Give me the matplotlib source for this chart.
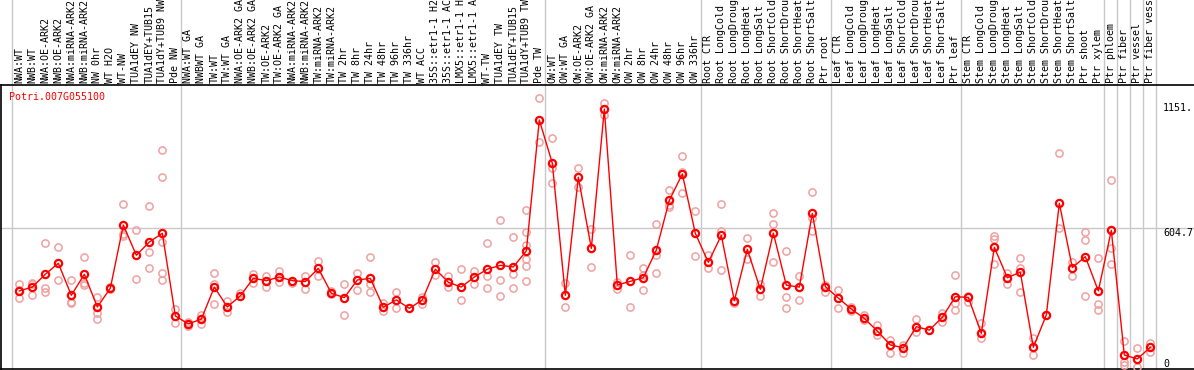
import numpy as np
import matplotlib
matplotlib.use("Agg")
import matplotlib.pyplot as plt
import matplotlib.transforms as mtransforms

# --- data ---
gene = "Potri.007G055100"

labels = [
    "NWA:WT", "NWB:WT", "NWA:OE-ARK2", "NWB:OE-ARK2", "NWA:miRNA-ARK2", "NWB:miRNA-ARK2",
    "NW 0hr", "WT H2O", "WT-NW", "TUA1dEY NW", "TUA1dEY+TUB15", "TUA1dY+TUB9 NW", "Pde NW",
    "NWA:WT GA", "NWBWT GA", "TW:WT", "TW:WT GA", "NWA:OE-ARK2 GA", "NWB:OE-ARK2 GA",
    "TW:OE-ARK2", "TW:OE-ARK2 GA", "NWA:miRNA-ARK2", "NWB:miRNA-ARK2", "TW:miRNA-ARK2",
    "TW:miRNA-ARK2", "TW 2hr", "TW 8hr", "TW 24hr", "TW 48hr", "TW 96hr", "TW 336hr", "WT ACC",
    "35S::etr1-1 H2O", "35S::etr1-1 ACC", "LMX5::etr1-1 H2O", "LMX5::etr1-1 ACC", "WT-TW",
    "TUA1dEY TW", "TUA1dEY+TUB15", "TUA1dY+TUB9 TW", "Pde TW",
    "OW:WT", "OW:WT GA", "OW:OE-ARK2", "OW:OE-ARK2 GA", "OW:miRNA-ARK2", "OW:miRNA-ARK2",
    "OW 2hr", "OW 8hr", "OW 24hr", "OW 48hr", "OW 96hr", "OW 336hr",
    "Root CTR", "Root LongCold", "Root LongDrought", "Root LongHeat", "Root LongSalt",
    "Root ShortCold", "Root ShortDrought", "Root ShortHeat", "Root ShortSalt", "Ptr root",
    "Leaf CTR", "Leaf LongCold", "Leaf LongDrought", "Leaf LongHeat", "Leaf LongSalt",
    "Leaf ShortCold", "Leaf ShortDrought", "Leaf ShortHeat", "Leaf ShortSalt", "Ptr leaf",
    "Stem CTR", "Stem LongCold", "Stem LongDrought", "Stem LongHeat", "Stem LongSalt",
    "Stem ShortCold", "Stem ShortDrought", "Stem ShortHeat", "Stem ShortSalt", "Ptr shoot",
    "Ptr xylem",
    "Ptr phloem", "Ptr fiber", "Ptr vessel", "Ptr fiber vessel",
]
group_sizes = [13, 28, 12, 10, 10, 11, 1, 1, 1, 1]

means = [
    331, 348, 404, 452, 312, 404, 261, 343, 619, 487, 545, 583, 222,
    187, 208, 348, 261, 310, 386, 376, 392, 376, 372, 430, 321, 302, 379, 386, 260,
    292, 255, 292, 426, 369, 348, 392, 426, 443, 436, 506, 1078,
    889, 312, 828, 517, 1126, 357, 373, 389, 510, 727, 842, 583,
    456, 574, 288, 513, 338, 584, 356, 348, 670, 350,
    300, 252, 211, 156, 95, 83, 175, 160, 216, 306,
    303, 146, 522, 389, 413, 85, 226, 714, 433, 481, 331,
    596, 51, 34, 85,
]

replicates = [
    [360, 299, 335], [367, 360, 313], [539, 345, 328], [522, 378], [378, 284, 277],
    [481, 364, 357], [306, 236, 207], [348, 338], [711, 573, 580], [597, 382],
    [701, 500, 430], [947, 828, 544, 408, 378], [252, 192],
    [195, 180], [226, 187], [410, 361, 273], [287, 238], [321], [405, 367], [396, 347],
    [420, 370], [364], [396, 338], [462, 396], [332, 318], [361, 225], [408, 335],
    [478, 361, 326], [280, 243], [326, 255], [258], [306, 275], [458, 399], [396, 350],
    [426, 292], [420, 360], [539, 396, 343], [640, 379, 310], [567, 404, 343],
    [685, 587, 532, 470, 440, 375], [1173, 981],
    [998, 867, 802], [364, 260], [867, 784], [602, 437], [1151, 1100], [372, 338],
    [487, 260], [430, 400, 335], [624, 488, 408], [771, 707, 700], [920, 850, 758],
    [679, 483],
    [488, 433], [710, 593, 423], [277], [561, 469], [361, 310], [670, 624, 456],
    [504, 303, 257], [396, 292], [762, 649, 594], [355, 328],
    [335, 255], [262, 245], [226, 205], [181, 139], [117, 61], [95, 58], [207, 153],
    [162], [233, 197], [401, 277, 248],
    [310, 284], [190, 124], [571, 557, 448], [408, 360], [474, 433, 328], [127, 51],
    [228], [933, 605], [459, 398], [590, 552, 310], [474, 274, 248],
    [815, 520, 448], [112, 22, 7], [80, 0], [102, 66],
]

ytick_vals = [1151, 604.7, 0]
ytick_text = ["1151.", "604.7", "0"]

# --- figure ---
W, H = 1194, 370
fig = plt.figure(figsize=(W / 100, H / 100), dpi=100)
top_px, bot_px = 85, 369
ax = fig.add_axes([1 / W, 1 - bot_px / H, 1 - 1 / W, (bot_px - top_px) / H])

mono = "DejaVu Sans Mono"
fs = 7.2
x = np.arange(len(means))

rep_x = [i for i, r in enumerate(replicates) for _ in r]
rep_y = [v for r in replicates for v in r]
ax.plot(rep_x, rep_y, "o", ls="none", ms=5.2, mfc="none", mec="#f0a0a0", mew=1.1,
        zorder=3)
ax.plot(x, means, "-", color="red", lw=1, zorder=4)
ax.plot(x, means, "o", ls="none", ms=5.2, mfc="none", mec="red", mew=1.6, zorder=5)

ax.set_xlim(-1.41, 90.36)
ax.set_ylim(-10, 1231)

# group separators, running up through the label strip
above = 1 + top_px / (bot_px - top_px)
edges = np.cumsum([0] + group_sizes) - 0.6
for e in edges:
    ax.axvline(e, ymin=0, ymax=above, color="#c8c8c8", lw=1, clip_on=False, zorder=1)
ax.axhline(ytick_vals[1], color="#c8c8c8", lw=1, zorder=1)

# column labels
trans = mtransforms.blended_transform_factory(ax.transData, ax.transAxes)
for i, lab in enumerate(labels):
    ax.text(i, 1 + 2 / (bot_px - top_px), lab, rotation=90, ha="center", va="bottom",
            family=mono, fontsize=fs, transform=trans, clip_on=False)

# value labels on the right, inside the frame
ylab_x = 87.98
for v, t in zip(ytick_vals, ytick_text):
    yv = v if v > 0 else 34
    ax.text(ylab_x, yv, t, ha="left", va="top", family=mono, fontsize=fs)

fig.text(9.3 / W, 1 - 97 / H, gene, color="red", family=mono, fontsize=fs,
         ha="left", va="center")

ax.set_xticks([])
ax.set_yticks([])
for side in ["left", "top", "bottom"]:
    ax.spines[side].set_color("black")
    ax.spines[side].set_linewidth(1.2)
ax.spines["right"].set_visible(False)

fig.savefig("out.png", dpi=100)
